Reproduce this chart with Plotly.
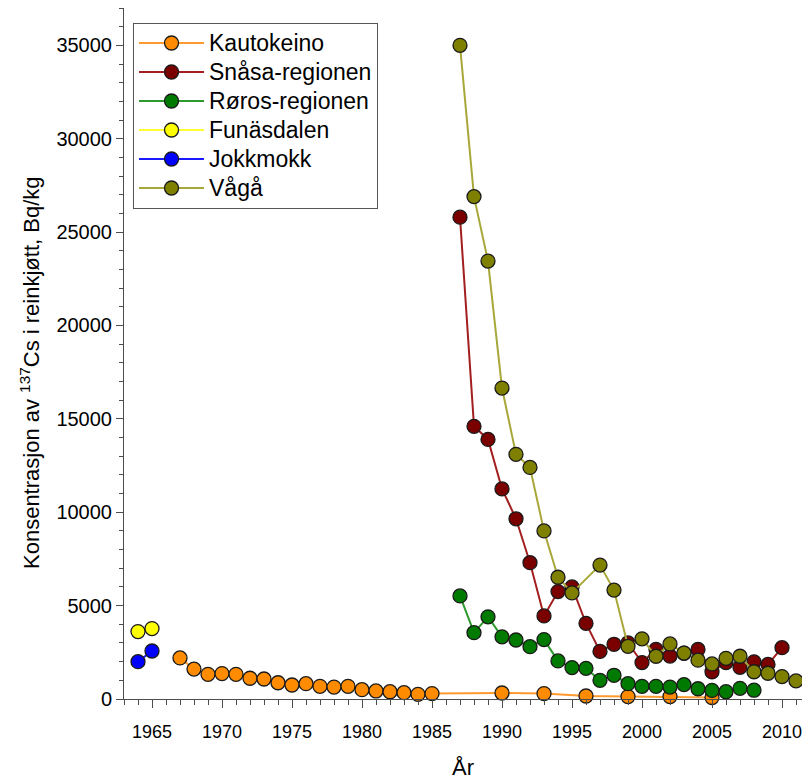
import plotly.graph_objects as go

# Caesium-137 in reindeer meat, Bq/kg, by region and year
kautokeino_years = list(range(1967, 1986)) + [1990, 1993, 1996, 1999, 2002, 2005]
kautokeino_vals = [2200, 1600, 1320, 1360, 1320, 1110, 1070, 870, 750, 820, 680, 640,
                   680, 500, 430, 390, 340, 250, 290, 320, 290, 160, 130, 130, 80]

snasa_years = list(range(1987, 2011))
snasa_vals = [25800, 14600, 13900, 11250, 9650, 7300, 4450, 5750, 6000, 4050, 2550, 2930,
              3000, 1950, 2650, 2300, 2450, 2650, 1460, 1950, 1700, 1990, 1850, 2750]

roros_years = list(range(1987, 2009))
roros_vals = [5520, 3550, 4400, 3330, 3160, 2800, 3180, 2040, 1680, 1640, 1000, 1270,
              820, 680, 680, 640, 770, 550, 460, 390, 570, 470]

funasdalen_years = [1964, 1965]
funasdalen_vals = [3610, 3770]

jokkmokk_years = [1964, 1965]
jokkmokk_vals = [2000, 2570]

vaga_years = list(range(1987, 1996)) + list(range(1997, 2012))
vaga_vals = [35000, 26900, 23450, 16650, 13100, 12400, 9000, 6520, 5680,
             7170, 5830, 2820, 3220, 2290, 2950, 2460, 2080, 1880, 2180, 2290,
             1460, 1380, 1200, 970]

series = [
    ("Kautokeino", kautokeino_years, kautokeino_vals, "#ff8c00", "#ff9a2e"),
    ("Snåsa-regionen", snasa_years, snasa_vals, "#7a0000", "#a31f1f"),
    ("Røros-regionen", roros_years, roros_vals, "#007a00", "#2e9a2e"),
    ("Funäsdalen", funasdalen_years, funasdalen_vals, "#ffff00", "#ffff33"),
    ("Jokkmokk", jokkmokk_years, jokkmokk_vals, "#0000ff", "#1a1aff"),
    ("Vågå", vaga_years, vaga_vals, "#7f7f00", "#a8a83a"),
]

fig = go.Figure()
for name, xs, ys, mcol, lcol in series:
    fig.add_trace(go.Scatter(
        x=xs, y=ys,
        name=f'<span style="font-size:23px">{name}</span>',
        mode="lines+markers",
        line=dict(color=lcol, width=2),
        marker=dict(size=14, color=mcol, line=dict(color="#1a1a1a", width=1.3)),
        cliponaxis=False,
    ))

axis_col = "#4d4d4d"
title_font = "Liberation Sans Narrow, Arial Narrow, Liberation Sans, Arial"
fig.update_layout(
    width=802, height=782,
    margin=dict(l=124, r=0, t=8, b=83),
    paper_bgcolor="white", plot_bgcolor="white",
    font=dict(family="Liberation Sans, Arial, sans-serif", color="black"),
    showlegend=True,
    legend=dict(
        x=0.0133, y=0.979, xanchor="left", yanchor="top",
        bgcolor="white", bordercolor="#555555", borderwidth=1,
        font=dict(size=20, family="Liberation Sans, Arial, sans-serif"),
        itemwidth=65, tracegroupgap=0,
    ),
    xaxis=dict(
        range=[1963, 1963 + 678 / 14], showgrid=False, zeroline=False,
        showline=True, linecolor=axis_col, linewidth=1,
        tickmode="array", tickvals=list(range(1965, 2011, 5)),
        ticks="outside", ticklen=8, tickcolor=axis_col, tickwidth=1,
        minor=dict(tickmode="linear", tick0=1963, dtick=1, ticks="outside",
                   ticklen=5, tickcolor=axis_col, tickwidth=1, showgrid=False),
        tickfont=dict(size=18), ticklabelstandoff=8, ticklabeloverflow="allow",
    ),
    yaxis=dict(
        range=[0, 37000], showgrid=False, zeroline=False,
        showline=True, linecolor=axis_col, linewidth=1,
        tickmode="linear", tick0=0, dtick=5000, tickformat="d",
        ticks="outside", ticklen=7, tickcolor=axis_col, tickwidth=1,
        minor=dict(tickmode="linear", tick0=0, dtick=1000, ticks="outside",
                   ticklen=4, tickcolor=axis_col, tickwidth=1, showgrid=False),
        tickfont=dict(size=20),
    ),
    annotations=[
        dict(text="Konsentrasjon av <sup>137</sup>Cs i reinkjøtt, Bq/kg",
             xref="paper", yref="paper", x=(30 - 124) / 678, y=(699 - 373) / 691,
             xanchor="center", yanchor="middle", textangle=-90, showarrow=False,
             font=dict(size=22, family=title_font)),
        dict(text="År", xref="paper", yref="paper", x=0.5, y=(699 - 782) / 691,
             xanchor="center", yanchor="bottom", showarrow=False,
             font=dict(size=22, family=title_font)),
    ],
)

fig.write_html("out.html")
